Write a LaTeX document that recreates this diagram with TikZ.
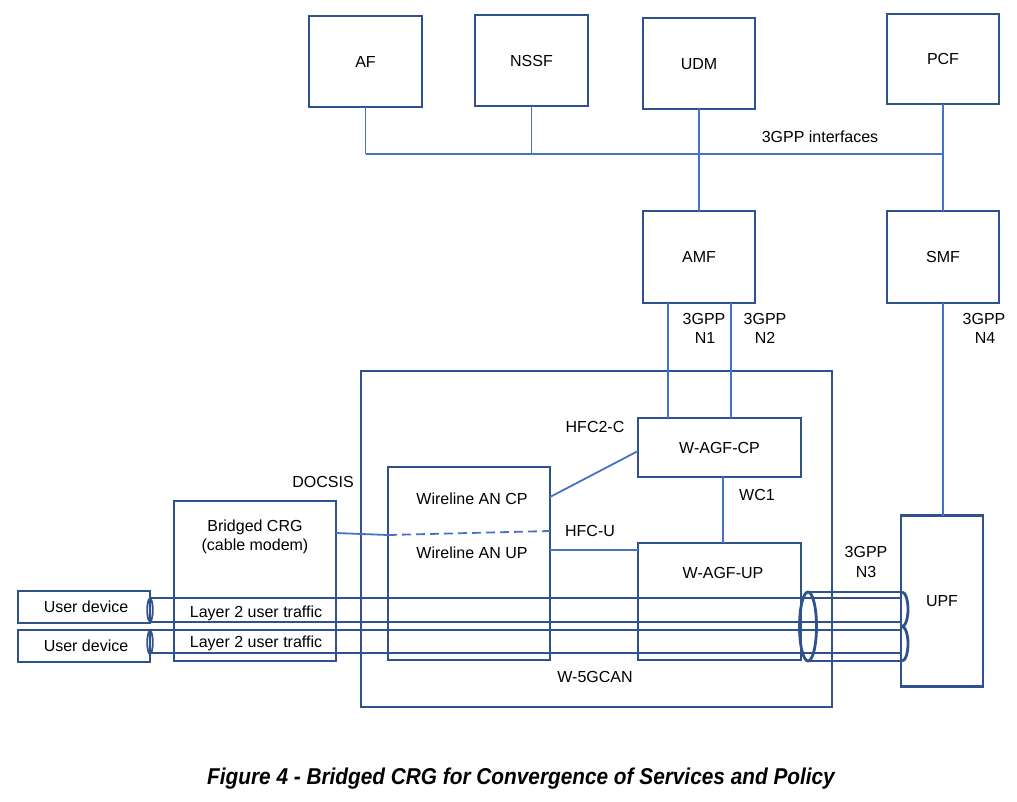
\documentclass[tikz,border=0pt]{standalone}
\usepackage{fontspec}
\setmainfont{Liberation Sans}
\definecolor{boxblue}{HTML}{2F528F}
\definecolor{lineblue}{HTML}{4472C4}
\begin{document}
\begin{tikzpicture}[x=1pt,y=-1pt,
  box/.style={draw=boxblue, line width=2.8pt, inner sep=0pt, outer sep=0pt, rectangle,
    font=\fontsize{16}{19}\selectfont, text height=11.5pt, text depth=0pt},
  conn/.style={draw=lineblue, line width=1.8pt},
  thinconn/.style={draw=lineblue, line width=1.2pt},
  lbl/.style={inner sep=0pt, font=\fontsize{16}{19}\selectfont, text height=11.5pt, text depth=0pt},
  pipe/.style={draw=boxblue, line width=2.8pt}]
\useasboundingbox (0,0) rectangle (1017,801);

% boxes
\node[box, minimum width=113pt, minimum height=91pt] (af) at (365.5,61.5) {AF};
\node[box, minimum width=113pt, minimum height=91pt] (nssf) at (531.5,60.5) {NSSF};
\node[box, minimum width=112pt, minimum height=91pt] (udm) at (699,63.5) {UDM};
\node[box, minimum width=112pt, minimum height=90pt] (pcf) at (943,59) {PCF};
\node[box, minimum width=112pt, minimum height=92pt] (amf) at (699,257) {AMF};
\node[box, minimum width=112pt, minimum height=92pt] (smf) at (943,257) {SMF};
\node[box, minimum width=471pt, minimum height=336pt] (can) at (596.5,539) {};
\node[box, minimum width=163pt, minimum height=59pt] (agfcp) at (719.5,447.5) {W-AGF-CP};
\node[box, minimum width=163pt, minimum height=117pt] (agfup) at (719.5,601.5) {};
\node[box, minimum width=162pt, minimum height=193pt] (wan) at (469,563.5) {};
\node[box, minimum width=162pt, minimum height=160pt] (crg) at (255,581) {};
\node[box, minimum width=132pt, minimum height=32pt] (ud1) at (84,607) {\hspace*{4pt}User device};
\node[box, minimum width=132pt, minimum height=32pt] (ud2) at (84,646) {\hspace*{4pt}User device};
\node[box, minimum width=82pt, minimum height=171pt] (upf) at (942,601) {UPF};

% top bus
\coordinate (bus) at (366,154);
\draw[conn] (af.south) -- (af.south |- bus);
\draw[conn] (nssf.south) -- (nssf.south |- bus);
\draw[conn] (af.south |- bus) -- (pcf.south |- bus);
\draw[conn] (udm.south) -- (amf.north);
\draw[conn] (pcf.south) -- (smf.north);

% N1 N2 N4
\draw[thinconn] ([xshift=-31pt]amf.south) -- ([xshift=-31pt]amf.south |- agfcp.north);
\draw[thinconn] ([xshift=32pt]amf.south) -- ([xshift=32pt]amf.south |- agfcp.north);
\draw[conn] (smf.south) -- (smf.south |- upf.north);

% HFC2-C, WC1, HFC-U
\draw[conn] ([yshift=-30pt]wan.north east) -- ([yshift=-3.5pt]agfcp.west);
\draw[conn] ([xshift=3.5pt]agfcp.south) -- ([xshift=3.5pt]agfcp.south |- agfup.north);
\coordinate (hfcu) at (0,550);
\draw[conn] (wan.east |- hfcu) -- (agfup.west |- hfcu);

% DOCSIS link
\coordinate (dA) at (0,533);
\coordinate (dB) at (0,535);
\coordinate (dC) at (0,531);
\draw[conn] (crg.east |- dA) -- (wan.west |- dB);
\draw[conn, dash pattern=on 9pt off 5pt] (wan.west |- dB) -- (wan.east |- dC);

% pipes
\draw[pipe] (150,598) -- (902,598);
\draw[pipe] (150,622) -- (902,622);
\draw[pipe] (150,630) -- (902,630);
\draw[pipe] (150,653) -- (902,653);
\draw[pipe, line width=1.8pt] (150,610) ellipse [x radius=2.8pt, y radius=11.5pt];
\draw[pipe, line width=1.8pt] (150,642.5) ellipse [x radius=2.8pt, y radius=11.5pt];
\draw[pipe] (808,592) -- (902,592);
\draw[pipe] (808,661) -- (902,661);
\draw[pipe] (808,626.5) ellipse [x radius=8.5pt, y radius=34.5pt];
\draw[pipe] (902,592) arc[start angle=90, end angle=-90, x radius=6pt, y radius=17.25pt];
\draw[pipe] (902,626.5) arc[start angle=90, end angle=-90, x radius=6pt, y radius=17.25pt];

% labels
\node[lbl] (l3gpp) at (820,137) {3GPP interfaces};
\node[lbl] (n1a) at (704,319) {3GPP};
\node[lbl] (n1b) at (705,338) {N1};
\node[lbl] (n2a) at (765,319) {3GPP};
\node[lbl] (n2b) at (765,338) {N2};
\node[lbl] (n4a) at (984,319) {3GPP};
\node[lbl] (n4b) at (985,338) {N4};
\node[lbl] (n3a) at (866,552) {3GPP};
\node[lbl] (n3b) at (866,572) {N3};
\node[lbl] (hfc2c) at (595,427) {HFC2-C};
\node[lbl] (wc1) at (757,495) {WC1};
\node[lbl] (hfcu) at (590,531) {HFC-U};
\node[lbl] (docsis) at (323,482) {DOCSIS};
\node[lbl] (w5g) at (595,677) {W-5GCAN};
\node[lbl] (wancp) at (472,499) {Wireline AN CP};
\node[lbl] (wanup) at (472,553) {Wireline AN UP};
\node[lbl] (crg1) at (255,526) {Bridged CRG};
\node[lbl] (crg2) at (255,545) {(cable modem)};
\node[lbl] (agfupt) at (723,573) {W-AGF-UP};
\node[lbl] (l2a) at (256,612) {Layer 2 user traffic};
\node[lbl] (l2b) at (256,642) {Layer 2 user traffic};

\node[inner sep=0pt, yscale=1.1, font=\fontsize{20.8}{25}\selectfont\bfseries\itshape, text height=15pt, text depth=0pt] (cap) at (521,776) {Figure 4 - Bridged CRG for Convergence of Services and Policy};
\end{tikzpicture}
\end{document}
